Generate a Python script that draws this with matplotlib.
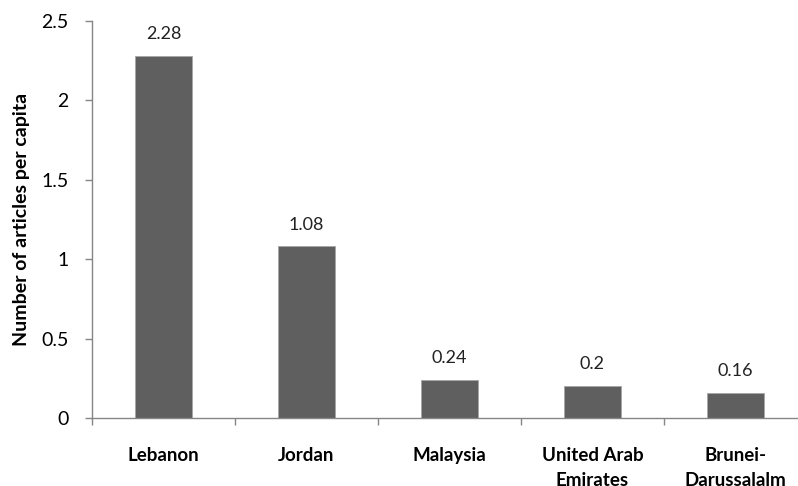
import matplotlib.pyplot as plt
import numpy as np

countries = ['Lebanon', 'Jordan', 'Malaysia', 'United Arab\nEmirates', 'Brunei-\nDarussalalm']
values = [2.28, 1.08, 0.24, 0.2, 0.16]
labels = ['2.28', '1.08', '0.24', '0.2', '0.16']

plt.rcParams['font.family'] = ['Lato', 'DejaVu Sans']

fig = plt.figure(figsize=(7.98, 4.86), dpi=100)
ax = fig.add_axes([92/798, 68/486, 715/798, 397/486])

x = np.arange(len(countries))
bars = ax.bar(x, values, width=0.4, color='#5f5f5f', edgecolor='#a6a6a6', linewidth=0.6)

for b, lab in zip(bars, labels):
    ax.annotate(lab, (b.get_x() + b.get_width()/2, b.get_height()),
                xytext=(0, 10), textcoords='offset points',
                ha='center', va='bottom', fontsize=13, color='#222222')

ax.set_xlim(-0.5, 4.5)
ax.set_ylim(0, 2.5)
ax.set_yticks([0, 0.5, 1, 1.5, 2, 2.5])
ax.set_yticklabels(['0', '0.5', '1', '1.5', '2', '2.5'], fontsize=14)

ax.set_xticks(x)
ax.set_xticklabels(countries, fontsize=13.5, fontweight='bold', linespacing=1.55, va='top')
ax.tick_params(axis='x', which='major', length=0, pad=21)
ax.set_xticks(np.arange(-0.5, 5, 1), minor=True)
ax.tick_params(axis='x', which='minor', length=5, color='#868686', width=1)
ax.tick_params(axis='y', length=5, color='#868686', width=1, pad=12)

ax.set_ylabel('Number of articles per capita', fontsize=14, fontweight='bold', labelpad=8)

for s in ['top', 'right']:
    ax.spines[s].set_visible(False)
for s in ['left', 'bottom']:
    ax.spines[s].set_color('#868686')
    ax.spines[s].set_linewidth(1)

fig.savefig('out.png', dpi=100)
